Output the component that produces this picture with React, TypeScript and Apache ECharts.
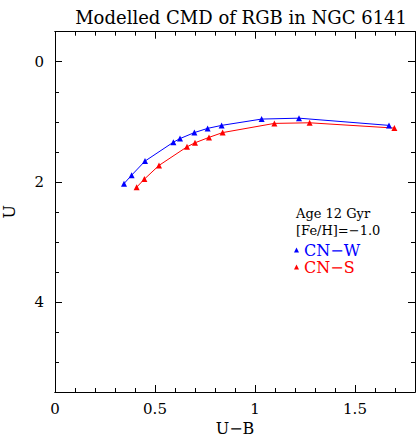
import React, { useEffect, useRef } from "react";
import * as echarts from "echarts";

const titleText = "Modelled CMD of RGB in NGC 6141";
const xName = "U−B";
const yName = "U";
const infoLines = ["Age 12 Gyr", "[Fe/H]=−1.0"];
const seriesNames = ["CN−W", "CN−S"];
const seriesColors = ["#0000ff", "#ff0000"];

const cnwX = [0.345, 0.383, 0.45, 0.592, 0.625, 0.697, 0.763, 0.833, 1.033, 1.22, 1.67];
const cnwY = [2.03, 1.89, 1.655, 1.34, 1.28, 1.18, 1.11, 1.06, 0.955, 0.94, 1.06];
const cnsX = [0.408, 0.447, 0.52, 0.66, 0.7, 0.77, 0.838, 1.097, 1.273, 1.697];
const cnsY = [2.09, 1.955, 1.727, 1.417, 1.35, 1.26, 1.18, 1.027, 1.017, 1.105];

const xMajorLabels = ["0", "0.5", "1", "1.5"];
const yMajorLabels = ["0", "2", "4"];

const FONT = "DejaVu Serif";

export default function App() {
  const ref = useRef<HTMLDivElement>(null);
  useEffect(() => {
    if (!ref.current) return;
    const chart = echarts.init(ref.current, undefined, { renderer: "svg" });
    const line = { show: true, onZero: false, lineStyle: { color: "#000", width: 1 } };
    const fmt = (labels: string[]) => (v: number) => {
      const s = String(Math.round(v * 10) / 10);
      return labels.includes(s) ? s : "";
    };
    const nameStyle = { fontFamily: FONT, fontSize: 16, color: "#000" };
    const mkX = (pos: string, interval: number, len: number, labels: boolean, name?: string) => ({
      type: "value",
      gridIndex: 0,
      position: pos,
      min: 0,
      max: 1.8,
      interval,
      name: name || "",
      nameLocation: "middle",
      nameGap: 28,
      nameTextStyle: nameStyle,
      axisLine: line,
      axisTick: { show: true, inside: true, length: len, lineStyle: { color: "#000", width: 1 } },
      axisLabel: labels
        ? { show: true, formatter: fmt(xMajorLabels), margin: 9, fontFamily: FONT, fontSize: 15, color: "#000" }
        : { show: false },
      splitLine: { show: false },
    });
    const mkYMinor = (pos: string, name?: string) => ({
      type: "value",
      gridIndex: 0,
      position: pos,
      inverse: true,
      min: -0.5,
      max: 5.5,
      interval: 0.5,
      name: name || "",
      nameLocation: "middle",
      nameGap: 38,
      nameRotate: 90,
      nameTextStyle: nameStyle,
      axisLine: line,
      axisTick: { show: true, inside: true, length: 4, lineStyle: { color: "#000", width: 1 } },
      axisLabel: { show: false },
      splitLine: { show: false },
    });
    const mkYMajor = (pos: string, labels: boolean) => ({
      type: "value",
      gridIndex: 1,
      position: pos,
      inverse: true,
      min: 0,
      max: 5.5,
      interval: 2,
      axisLine: { show: false, onZero: false },
      axisTick: { show: true, inside: true, length: 7, lineStyle: { color: "#000", width: 1 } },
      axisLabel: labels
        ? { show: true, formatter: fmt(yMajorLabels), margin: 11, fontFamily: FONT, fontSize: 15, color: "#000" }
        : { show: false },
      splitLine: { show: false },
    });
    const pairs = (xs: number[], ys: number[]) => xs.map((x, i) => [x, ys[i]]);
    chart.setOption({
      animation: false,
      backgroundColor: "#fff",
      title: {
        text: titleText,
        right: 5,
        top: 3,
        textStyle: { fontFamily: FONT, fontWeight: "normal", fontSize: 18, color: "#000" },
      },
      grid: [
        { left: 55, right: 2, top: 31.7, bottom: 46, containLabel: false, outerBoundsMode: "none" },
        { left: 55, right: 2, top: 61.7, bottom: 46, containLabel: false, outerBoundsMode: "none" },
      ],
      xAxis: [
        mkX("bottom", 0.5, 7, true, xName),
        mkX("top", 0.5, 7, false),
        mkX("bottom", 0.1, 4, false),
        mkX("top", 0.1, 4, false),
        { type: "value", gridIndex: 1, show: false, min: 0, max: 1.8 },
      ],
      yAxis: [
        mkYMinor("left", yName),
        mkYMinor("right"),
        mkYMajor("left", true),
        mkYMajor("right", false),
      ],
      legend: {
        orient: "vertical",
        left: 294,
        top: 242,
        itemWidth: 5,
        itemHeight: 5,
        itemGap: 1,
        padding: 0,
        icon: "triangle",
        data: seriesNames.map((n, i) => ({
          name: n,
          textStyle: { color: seriesColors[i], fontFamily: FONT, fontSize: 16, lineHeight: 16 },
        })),
      },
      graphic: infoLines.map((t, i) => ({
        type: "text",
        left: 296,
        top: 207 + i * 17,
        style: { text: t, fontFamily: FONT, fontSize: 13, fill: "#000" },
      })),
      series: [
        {
          name: seriesNames[0],
          type: "line",
          xAxisIndex: 0,
          yAxisIndex: 0,
          data: pairs(cnwX, cnwY),
          symbol: "triangle",
          symbolSize: 6,
          color: seriesColors[0],
          lineStyle: { width: 1, color: seriesColors[0] },
          itemStyle: { color: seriesColors[0] },
        },
        {
          name: seriesNames[1],
          type: "line",
          xAxisIndex: 0,
          yAxisIndex: 0,
          data: pairs(cnsX, cnsY),
          symbol: "triangle",
          symbolSize: 6,
          color: seriesColors[1],
          lineStyle: { width: 1, color: seriesColors[1] },
          itemStyle: { color: seriesColors[1] },
        },
      ],
    });
    return () => chart.dispose();
  }, []);
  return <div ref={ref} style={{ width: 417, height: 438, position: "absolute", left: 0, top: 0 }} />;
}
